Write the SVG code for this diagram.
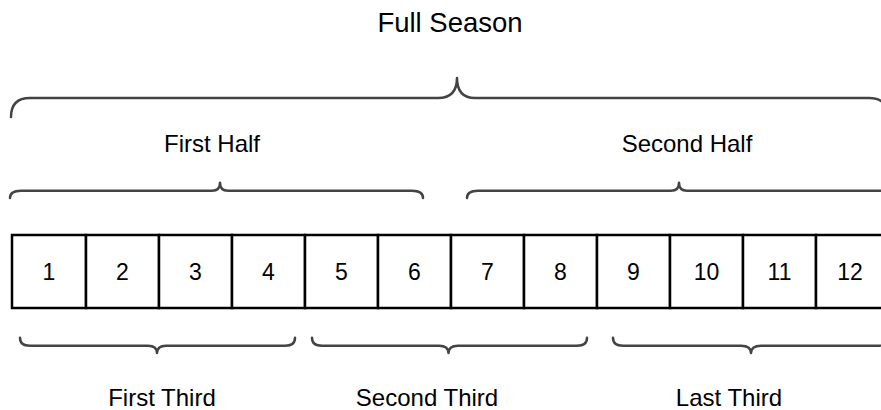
<svg xmlns="http://www.w3.org/2000/svg" width="881" height="410" viewBox="0 0 881 410">
<style>
.lbl{font-family:"Liberation Sans",Arial,sans-serif;font-size:24px;fill:#000;text-anchor:middle}
.title{font-size:27.5px}
.num{font-family:"Liberation Sans",Arial,sans-serif;font-size:23px;fill:#000;text-anchor:middle}
.box{fill:#fff;stroke:#000;stroke-width:2.5}
.brace{fill:none;stroke:#444;stroke-width:2.5;stroke-linecap:round;stroke-linejoin:round}
</style>
<rect width="881" height="410" fill="#fff"/>
<g id="labels">
<text class="lbl title" x="450" y="32">Full Season</text>
<text class="lbl" x="212" y="152">First Half</text>
<text class="lbl" x="687" y="152">Second Half</text>
<text class="lbl" x="162" y="406">First Third</text>
<text class="lbl" x="427" y="406">Second Third</text>
<text class="lbl" x="729" y="406">Last Third</text>
</g>
<g id="boxes">
<g id="b1"><rect class="box" x="12" y="235" width="74" height="73"/><text class="num" x="49" y="279.5">1</text></g>
<g id="b2"><rect class="box" x="86" y="235" width="73" height="73"/><text class="num" x="122.5" y="279.5">2</text></g>
<g id="b3"><rect class="box" x="159" y="235" width="73" height="73"/><text class="num" x="195.5" y="279.5">3</text></g>
<g id="b4"><rect class="box" x="232" y="235" width="73" height="73"/><text class="num" x="268.5" y="279.5">4</text></g>
<g id="b5"><rect class="box" x="305" y="235" width="73" height="73"/><text class="num" x="341.5" y="279.5">5</text></g>
<g id="b6"><rect class="box" x="378" y="235" width="73" height="73"/><text class="num" x="414.5" y="279.5">6</text></g>
<g id="b7"><rect class="box" x="451" y="235" width="73" height="73"/><text class="num" x="487.5" y="279.5">7</text></g>
<g id="b8"><rect class="box" x="524" y="235" width="73" height="73"/><text class="num" x="560.5" y="279.5">8</text></g>
<g id="b9"><rect class="box" x="597" y="235" width="73" height="73"/><text class="num" x="633.5" y="279.5">9</text></g>
<g id="b10"><rect class="box" x="670" y="235" width="73" height="73"/><text class="num" x="706.5" y="279.5">10</text></g>
<g id="b11"><rect class="box" x="743" y="235" width="73" height="73"/><text class="num" x="779.5" y="279.5">11</text></g>
<g id="b12"><rect class="box" x="816" y="235" width="73" height="73"/><text class="num" x="850" y="279.5">12</text></g>
</g>
<g id="braces">
<path id="full" class="brace" d="M11,117 Q11,98 30,98 L438,98 Q457,98 457,78 Q457,98 475,98 L869,98 Q888,98 888,117"/>
<path id="firsthalf" class="brace" d="M10,198 Q10,190.7 21,190.7 L212,190.7 Q220,190.7 220,182.7 Q220,190.7 228,190.7 L412,190.7 Q423,190.7 423,198"/>
<path id="secondhalf" class="brace" d="M467,198 Q467,190.7 478,190.7 L671,190.7 Q679,190.7 679,182.7 Q679,190.7 687,190.7 L880,190.7 Q891,190.7 891,198"/>
<path id="firstthird" class="brace" d="M20,337.7 Q20,345.7 30,345.7 L148,345.7 Q157,345.7 157,353 Q157,345.7 166,345.7 L285,345.7 Q295,345.7 295,337.7"/>
<path id="secondthird" class="brace" d="M312,337.7 Q312,345.7 322,345.7 L439,345.7 Q448.5,345.7 448.5,353 Q448.5,345.7 458,345.7 L577,345.7 Q587,345.7 587,337.7"/>
<path id="lastthird" class="brace" d="M613,337.7 Q613,345.7 623,345.7 L741,345.7 Q751,345.7 751,353 Q751,345.7 761,345.7 L879,345.7 Q889,345.7 889,337.7"/>
</g>
</svg>
